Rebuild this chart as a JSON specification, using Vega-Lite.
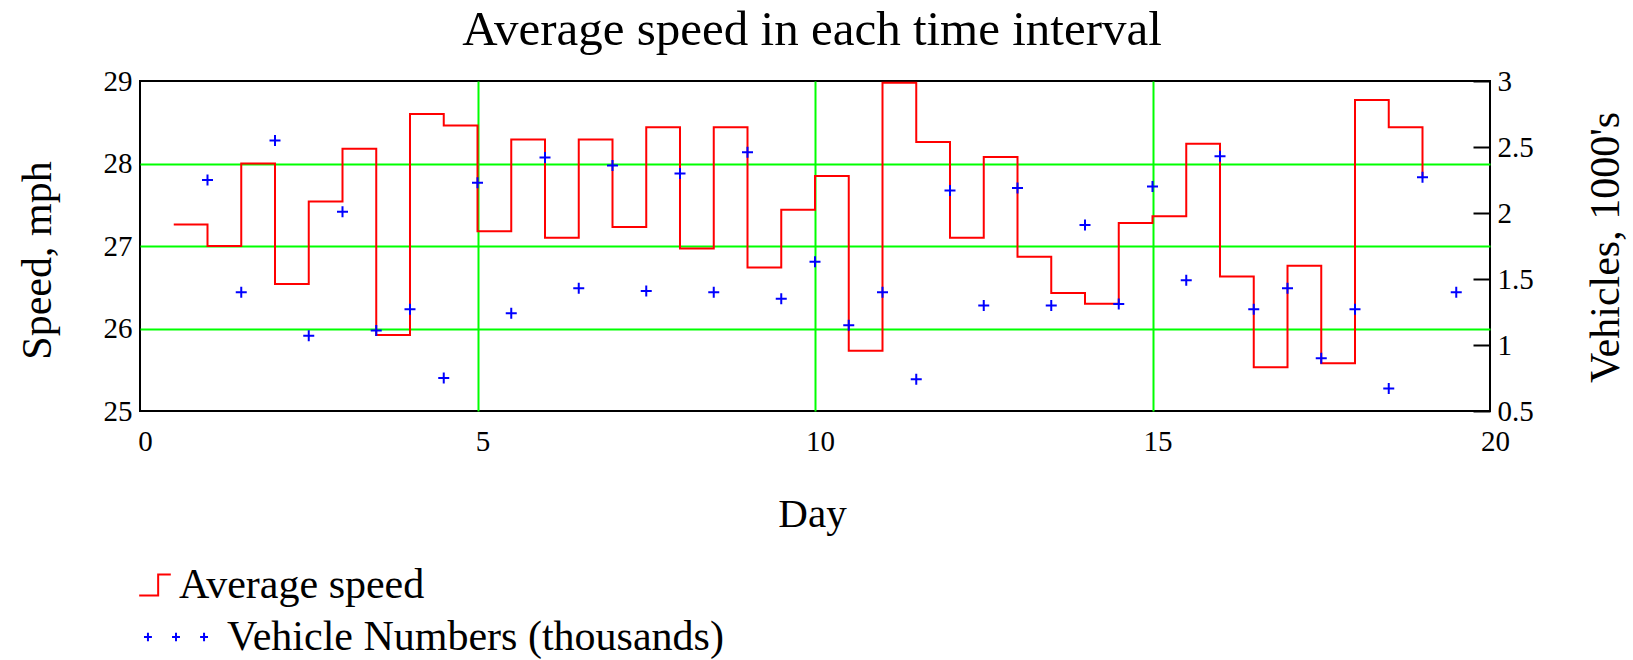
{
  "$schema": "https://vega.github.io/schema/vega-lite/v6.json",
  "width": 1350,
  "height": 330,
  "autosize": {"type": "none"},
  "padding": {"left": 140, "top": 81, "right": 143, "bottom": 249},
  "title": {"text": "Average speed in each time interval", "fontSize": 49, "font": "Liberation Serif", "fontWeight": "normal", "anchor": "middle", "baseline": "alphabetic", "offset": 20, "dy": 47, "dx": -3, "color": "#000000"},
  "datasets": {
    "speed": [
      {"day": 0.5, "mph": 27.26}, {"day": 1, "mph": 27.0}, {"day": 1.5, "mph": 28.0}, {"day": 2, "mph": 26.54},
      {"day": 2.5, "mph": 27.54}, {"day": 3, "mph": 28.18}, {"day": 3.5, "mph": 25.92}, {"day": 4, "mph": 28.6},
      {"day": 4.5, "mph": 28.46}, {"day": 5, "mph": 27.18}, {"day": 5.5, "mph": 28.29}, {"day": 6, "mph": 27.1},
      {"day": 6.5, "mph": 28.29}, {"day": 7, "mph": 27.23}, {"day": 7.5, "mph": 28.44}, {"day": 8, "mph": 26.97},
      {"day": 8.5, "mph": 28.44}, {"day": 9, "mph": 26.74}, {"day": 9.5, "mph": 27.44}, {"day": 10, "mph": 27.85},
      {"day": 10.5, "mph": 25.73}, {"day": 11, "mph": 28.98}, {"day": 11.5, "mph": 28.26}, {"day": 12, "mph": 27.1},
      {"day": 12.5, "mph": 28.08}, {"day": 13, "mph": 26.87}, {"day": 13.5, "mph": 26.43}, {"day": 14, "mph": 26.3},
      {"day": 14.5, "mph": 27.28}, {"day": 15, "mph": 27.36}, {"day": 15.5, "mph": 28.24}, {"day": 16, "mph": 26.63},
      {"day": 16.5, "mph": 25.53}, {"day": 17, "mph": 26.76}, {"day": 17.5, "mph": 25.58}, {"day": 18, "mph": 28.77},
      {"day": 18.5, "mph": 28.44}, {"day": 19, "mph": 27.82}
    ],
    "vehicles": [
      {"day": 1, "thousands": 2.25}, {"day": 1.5, "thousands": 1.4}, {"day": 2, "thousands": 2.55}, {"day": 2.5, "thousands": 1.07},
      {"day": 3, "thousands": 2.01}, {"day": 3.5, "thousands": 1.11}, {"day": 4, "thousands": 1.27}, {"day": 4.5, "thousands": 0.75},
      {"day": 5, "thousands": 2.23}, {"day": 5.5, "thousands": 1.24}, {"day": 6, "thousands": 2.42}, {"day": 6.5, "thousands": 1.43},
      {"day": 7, "thousands": 2.36}, {"day": 7.5, "thousands": 1.41}, {"day": 8, "thousands": 2.3}, {"day": 8.5, "thousands": 1.4},
      {"day": 9, "thousands": 2.46}, {"day": 9.5, "thousands": 1.35}, {"day": 10, "thousands": 1.63}, {"day": 10.5, "thousands": 1.15},
      {"day": 11, "thousands": 1.4}, {"day": 11.5, "thousands": 0.74}, {"day": 12, "thousands": 2.17}, {"day": 12.5, "thousands": 1.3},
      {"day": 13, "thousands": 2.19}, {"day": 13.5, "thousands": 1.3}, {"day": 14, "thousands": 1.91}, {"day": 14.5, "thousands": 1.31},
      {"day": 15, "thousands": 2.2}, {"day": 15.5, "thousands": 1.49}, {"day": 16, "thousands": 2.43}, {"day": 16.5, "thousands": 1.27},
      {"day": 17, "thousands": 1.43}, {"day": 17.5, "thousands": 0.9}, {"day": 18, "thousands": 1.27}, {"day": 18.5, "thousands": 0.67},
      {"day": 19, "thousands": 2.27}, {"day": 19.5, "thousands": 1.4}
    ]
  },
  "layer": [
    {
      "data": {"name": "speed"},
      "mark": {"type": "line", "interpolate": "step-after", "strokeWidth": 2},
      "encoding": {
        "x": {
          "field": "day", "type": "quantitative",
          "scale": {"domain": [0, 20], "nice": false, "zero": false},
          "axis": {
            "title": "Day", "titleFontSize": 41, "titleX": 672, "titleY": 103, "titleBaseline": "middle", "titleAlign": "center", "titleAngle": 0,
            "values": [0, 5, 10, 15, 20], "format": "d", "labelFontSize": 29, "labelPadding": 16, "labelOffset": 5, "labelFlush": false, "labelOverlap": false,
            "ticks": false, "domain": false, "grid": true, "gridColor": "#00ff00", "gridWidth": 2,
            "gridOpacity": {"condition": {"test": "datum.value == 0 || datum.value == 20", "value": 0}, "value": 1}
          }
        },
        "y": {
          "field": "mph", "type": "quantitative",
          "scale": {"domain": [25, 29], "nice": false, "zero": false},
          "axis": {
            "title": "Speed, mph", "titleFontSize": 42, "titleAngle": -90, "titleX": -103, "titleY": 179, "titleBaseline": "middle", "titleAlign": "center",
            "values": [25, 26, 27, 28, 29], "format": "d", "labelFontSize": 29, "labelPadding": 8, "labelOverlap": false, "labelFlush": false,
            "ticks": false, "domain": false, "grid": true, "gridColor": "#00ff00", "gridWidth": 2,
            "gridOpacity": {"condition": {"test": "datum.value == 25 || datum.value == 29", "value": 0}, "value": 1}
          }
        },
        "stroke": {
          "datum": "Average speed", "type": "nominal",
          "scale": {"range": ["#ff0000"]},
          "legend": {
            "orient": "none", "legendX": -6, "legendY": 483, "title": null, "padding": 0,
            "symbolType": "M-1,0.67H0.2V-0.67H1", "symbolSize": 1000, "symbolStrokeWidth": 2, "symbolFillColor": "transparent",
            "labelFontSize": 42, "labelOffset": 3, "labelLimit": 1000
          }
        }
      }
    },
    {
      "data": {"name": "vehicles"},
      "mark": {"type": "point", "shape": "M-1,0H1M0,-1V1", "filled": false, "size": 121, "strokeWidth": 2, "opacity": 1},
      "encoding": {
        "x": {"field": "day", "type": "quantitative"},
        "y": {
          "field": "thousands", "type": "quantitative",
          "scale": {"domain": [0.5, 3], "nice": false, "zero": false},
          "axis": {
            "orient": "right", "title": "Vehicles, 1000's", "titleFontSize": 42, "titleAngle": -90, "titleX": 115, "titleY": 166, "titleBaseline": "middle", "titleAlign": "center",
            "values": [0.5, 1, 1.5, 2, 2.5, 3], "format": "~g", "labelFontSize": 29, "labelPadding": 24, "labelOverlap": false, "labelFlush": false,
            "ticks": true, "tickSize": -17, "tickWidth": 2, "tickColor": "#000000", "domain": false, "grid": false
          }
        },
        "color": {
          "datum": "Vehicle Numbers (thousands)", "type": "nominal",
          "scale": {"range": ["#0000ff"]},
          "legend": {
            "orient": "none", "legendX": 2, "legendY": 522, "title": null, "padding": 0,
            "symbolType": "M-0.97,0H-0.73M-0.85,-0.13V0.13M-0.12,0H0.12M0,-0.13V0.13M0.73,0H0.97M0.85,-0.13V0.13",
            "symbolSize": 4356, "symbolStrokeWidth": 2, "symbolFillColor": "transparent",
            "labelFontSize": 42, "labelOffset": 17, "labelLimit": 1000
          }
        }
      }
    }
  ],
  "resolve": {"scale": {"y": "independent"}},
  "config": {
    "font": "Liberation Serif",
    "view": {"stroke": "#000000", "strokeWidth": 2},
    "axis": {"labelColor": "#000000", "titleColor": "#000000", "titleFontWeight": "normal", "labelFont": "Liberation Serif", "titleFont": "Liberation Serif"},
    "legend": {"labelColor": "#000000", "labelFont": "Liberation Serif"}
  }
}
